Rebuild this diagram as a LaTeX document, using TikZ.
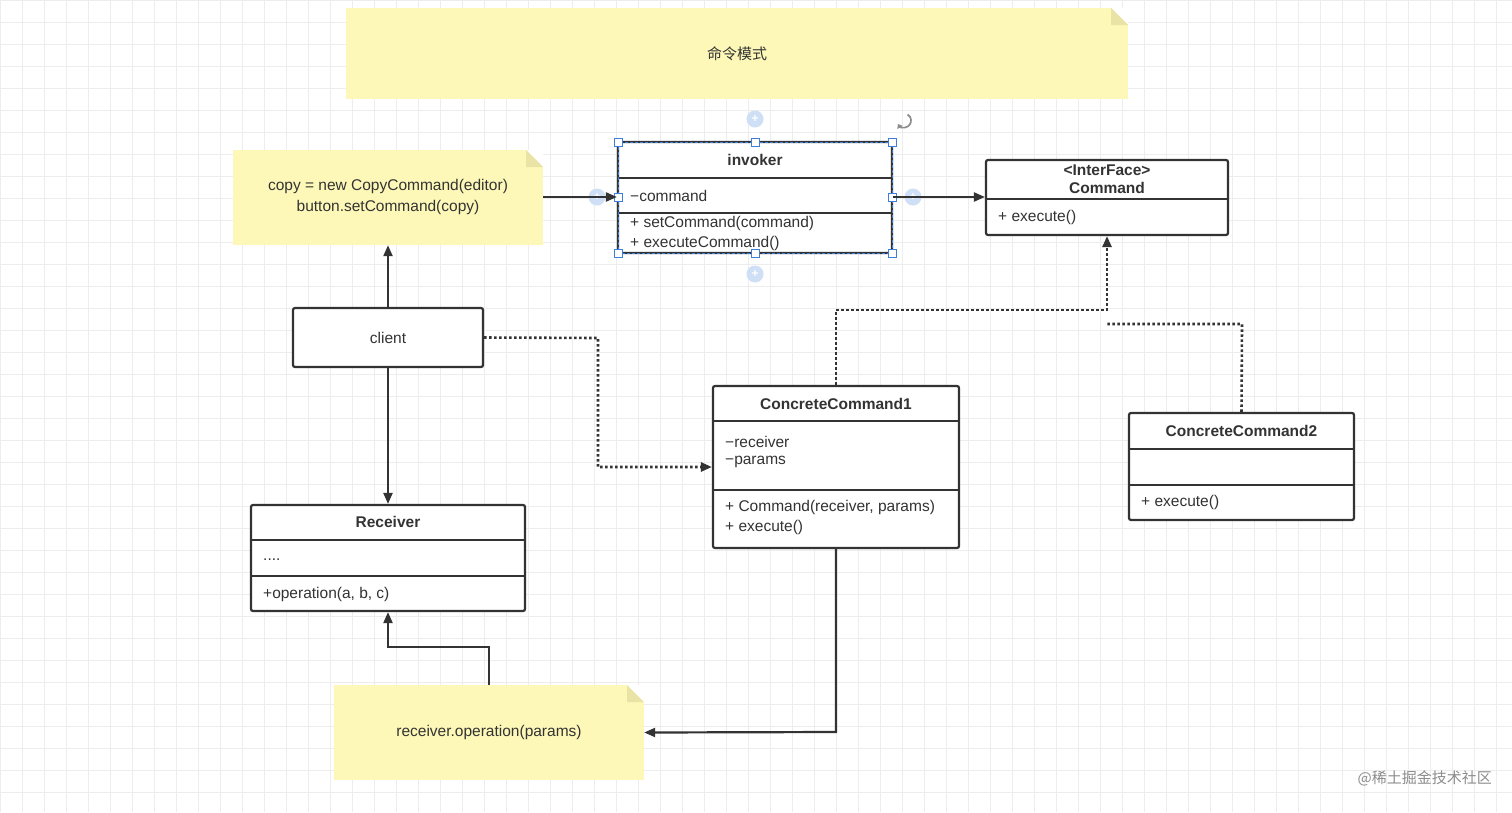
\documentclass[tikz,border=0pt]{standalone}
\usepackage{fontspec}
\setmainfont{Liberation Sans}
\newfontfamily\cjk{Noto Sans CJK SC}
\usetikzlibrary{arrows.meta,calc}
\definecolor{ln}{HTML}{333333}
\definecolor{note}{HTML}{FDF8B8}
\definecolor{fold}{HTML}{E9E3A6}
\definecolor{sel}{HTML}{3D7EDB}
\tikzset{
 box/.style={draw=ln,line width=2.2pt,rounded corners=2pt,fill=white,inner sep=0pt},
 nt/.style={fill=note,inner sep=0pt},
 t/.style={font=\fontsize{15.5pt}{18pt}\selectfont,text=ln,inner sep=0pt},
 b/.style={t,font=\fontsize{15.5pt}{18pt}\selectfont\bfseries},
 con/.style={draw=ln,line width=2.2pt,-{Triangle[length=11pt,width=9pt]}},
 dot/.style={con,dash pattern=on 2.5pt off 2.5pt,line width=2.6pt},
 dv/.style={draw=ln,line width=2pt},
 hd/.style={draw=sel,fill=white,line width=0.9pt,minimum size=8pt,inner sep=0pt},
 pl/.style={circle,fill=sel!25,minimum size=17pt,inner sep=0pt,text=white,font=\bfseries\large}
}
\begin{document}
\begin{tikzpicture}[x=1pt,y=-1pt]
\useasboundingbox (0,0) rectangle (1512,812);
\fill[white] (0,0) rectangle (1512,812);
\foreach \i in {0,...,69} \draw[black!7,line width=0.7pt] (\i*22,0) -- (\i*22,812);
\foreach \i in {0,...,37} \draw[black!7,line width=0.7pt] (0,\i*22) -- (1512,\i*22);
% notes
\node[nt,minimum width=782pt,minimum height=91pt] (title) at (737,53.5) {};
\fill[white] (1111,8) -- (1128,8) -- (1128,25) -- cycle;
\fill[fold] (1111,8) -- (1111,25) -- (1128,25) -- cycle;
\node[t,font=\cjk\fontsize{15pt}{17pt}\selectfont] at (title) {命令模式};
\node[nt,minimum width=310pt,minimum height=95pt] (n1) at (388,197.5) {};
\fill[white] (526,150) -- (543,150) -- (543,167) -- cycle;
\fill[fold] (526,150) -- (526,167) -- (543,167) -- cycle;
\node[t,align=center] at (388,197) {copy = new CopyCommand(editor)\\[3pt]button.setCommand(copy)};
\node[nt,minimum width=310pt,minimum height=95pt] (n3) at (489,732.5) {};
\fill[white] (627,685) -- (644,685) -- (644,702) -- cycle;
\fill[fold] (627,685) -- (627,702) -- (644,702) -- cycle;
\node[t] at (489,732) {receiver.operation(params)};
% invoker
\node[box,minimum width=274pt,minimum height=111pt] (inv) at (755,197.5) {};
\draw[dv] (618,178) -- (892,178); \draw[dv] (618,213) -- (892,213);
\node[b] at (755,160) {invoker};
\node[t,anchor=west] at (630,196) {−command};
\node[t,anchor=west] at (630,223) {+ setCommand(command)};
\node[t,anchor=west] at (630,243) {+ executeCommand()};
\draw[sel,line width=0.9pt,dash pattern=on 3pt off 2pt] (618,142) rectangle (892,253);
\foreach \x in {618,755,892} {\node[hd] at (\x,142) {}; \node[hd] at (\x,253) {};}
\node[hd] at (618,197) {}; \node[hd] at (892,197) {};
\node[pl] at (755,119) {+}; \node[pl] at (755,274) {+};
\node[pl] at (597,197) {+}; \node[pl] at (913,197) {+};
\draw[black!45,line width=1.6pt,{Triangle[length=4pt,width=6pt]}-] (898,124) arc (150:-60:7);
% Command
\node[box,minimum width=242pt,minimum height=75pt] (cmd) at (1107,197.5) {};
\draw[dv] (986,199) -- (1228,199);
\node[b] at (1107,170) {<InterFace>};
\node[b] at (1107,188) {Command};
\node[t,anchor=west] at (998,217) {+ execute()};
% client
\node[box,minimum width=190pt,minimum height=59pt] (cl) at (388,337.5) {};
\node[t] at (cl) {client};
% CC1
\node[box,minimum width=246pt,minimum height=162pt] (c1) at (836,467) {};
\draw[dv] (713,421) -- (959,421); \draw[dv] (713,490) -- (959,490);
\node[b] at (836,404) {ConcreteCommand1};
\node[t,anchor=west] at (725,442) {−receiver};
\node[t,anchor=west] at (725,462) {−params};
\node[t,anchor=west] at (725,507) {+ Command(receiver, params)};
\node[t,anchor=west] at (725,527) {+ execute()};
% CC2
\node[box,minimum width=225pt,minimum height=107pt] (c2) at (1241.5,466.5) {};
\draw[dv] (1129,449) -- (1354,449); \draw[dv] (1129,485) -- (1354,485);
\node[b] at (1241.5,431) {ConcreteCommand2};
\node[t,anchor=west] at (1141,502) {+ execute()};
% Receiver
\node[box,minimum width=274pt,minimum height=106pt] (rc) at (388,558) {};
\draw[dv] (251,540) -- (525,540); \draw[dv] (251,576) -- (525,576);
\node[b] at (388,522) {Receiver};
\node[t,anchor=west] at (263,560) {....};
\node[t,anchor=west] at (263,594) {+operation(a, b, c)};
% connectors
\draw[con] (n1.east|-0,197) -- (inv.west|-0,197);
\draw[con] (inv.east|-0,197) -- (cmd.west|-0,197);
\draw[con] (cl.north) -- (n1.south);
\draw[con] (cl.south) -- (rc.north);
\draw[dot] (cl.east) -- (598,338) -- (598,467) -- (c1.west);
\draw[dot] (c1.north) -- (836,310) -- (1107,310) -- (cmd.south);
\draw[draw=ln,line width=2.6pt,dash pattern=on 2.5pt off 2.5pt] (c2.north) -- (1242,324) -- (1107,324);
\draw[con] (c1.south) -- (836,732) -- (n3.east);
\draw[con] (n3.north) -- (489,647) -- (388,647) -- (rc.south);
\node[t,text=black!45,font=\cjk\fontsize{15pt}{17pt}\selectfont,anchor=east] at (1492,778) {@稀土掘金技术社区};
\end{tikzpicture}
\end{document}
